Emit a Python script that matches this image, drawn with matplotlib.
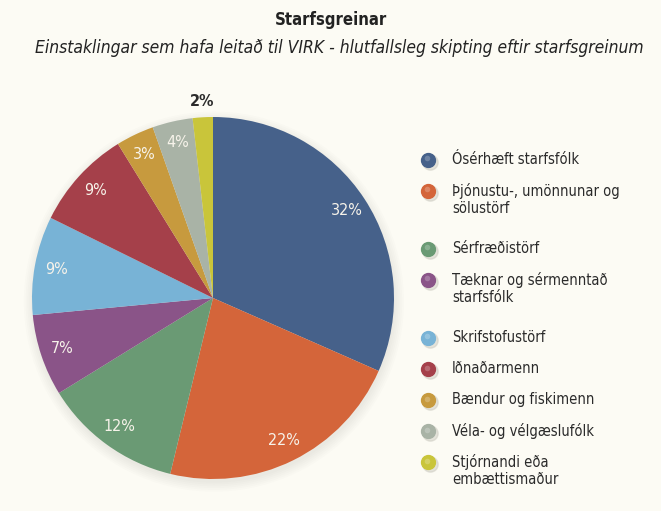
import matplotlib
matplotlib.use("Agg")
import numpy as np
import matplotlib.pyplot as plt
from matplotlib.lines import Line2D
from matplotlib.patches import Circle

categories = ["Ósérhæft starfsfólk", "Þjónustu-, umönnunar og\nsölustörf", "Sérfræðistörf",
              "Tæknar og sérmenntað\nstarfsfólk", "Skrifstofustörf", "Iðnaðarmenn",
              "Bændur og fiskimenn", "Véla- og vélgæslufólk", "Stjórnandi eða\nembættismaður"]
shares = [31.6, 22.2, 12.4, 7.3, 8.8, 8.9, 3.4, 3.6, 1.8]
pct_labels = ["32%", "22%", "12%", "7%", "9%", "9%", "3%", "4%", "2%"]
colors = ["#46618A", "#D4653A", "#6A9A74", "#8A5488", "#78B3D6",
          "#A5404A", "#C79A3E", "#A9B3A6", "#C9C53A"]

plt.rcParams["font.family"] = ["DejaVu Sans"]
plt.rcParams["font.stretch"] = "condensed"
BG = "#FCFBF4"
W, H = 661, 511

fig = plt.figure(figsize=(W / 100, H / 100), dpi=100, facecolor=BG)

# pie: center (213, 298) px, radius 181 px
cx, cy, r = 213, 298, 181
ax = fig.add_axes([(cx - r) / W, (H - cy - r) / H, 2 * r / W, 2 * r / H])
ax.set_facecolor(BG)

# faint soft shadow under the pie
for k in range(6):
    ax.add_patch(Circle((0.005, -0.02), 1.0 + 0.01 * k, color="#8a8a80", alpha=0.025,
                        lw=0, zorder=0, clip_on=False))

wedges, texts = ax.pie(shares, colors=colors, startangle=90, counterclock=False,
                       wedgeprops=dict(linewidth=0))
for i, (w, lab) in enumerate(zip(wedges, pct_labels)):
    w.set_zorder(2)
    mid = np.deg2rad((w.theta1 + w.theta2) / 2)
    if i == len(wedges) - 1:
        ax.text(1.09 * np.cos(mid), 1.09 * np.sin(mid), lab, ha="center", va="center",
                fontsize=11.5, fontweight="bold", color="#2b2b2b", zorder=3)
    else:
        ax.text(0.88 * np.cos(mid), 0.88 * np.sin(mid), lab, ha="center", va="center",
                fontsize=11.5, color="#F7F3EA", zorder=3)
ax.set_xlim(-1, 1)
ax.set_ylim(-1, 1)
ax.axis("off")

# titles
fig.text(0.5, 1 - 20 / H, "Starfsgreinar", ha="center", va="center",
         fontsize=12, fontweight="bold", color="#222222")
fig.text(339 / W, 1 - 48 / H, "Einstaklingar sem hafa leitað til VIRK - hlutfallsleg skipting eftir starfsgreinum",
         ha="center", va="center", fontsize=12.5, style="italic", color="#222222")

# legend with round "bead" markers, extra gap after two-line entries
y_px = 160
for lab, col in zip(categories, colors):
    yf = 1 - y_px / H
    fig.lines.append(Line2D([430 / W], [yf - 2 / H], transform=fig.transFigure, marker="o",
                            markersize=11, color="#c8c6bc", alpha=0.45, linestyle="none"))
    fig.lines.append(Line2D([428 / W], [yf], transform=fig.transFigure, marker="o",
                            markersize=10, color=col, markeredgecolor=col, linestyle="none"))
    fig.lines.append(Line2D([427 / W], [yf + 1.5 / H], transform=fig.transFigure, marker="o",
                            markersize=4, color="white", alpha=0.22, markeredgewidth=0,
                            linestyle="none"))
    fig.text(452 / W, 1 - (y_px - 8) / H, lab, ha="left", va="top", fontsize=10.5,
             color="#2b2b2b", linespacing=1.2)
    n = lab.count("\n") + 1
    y_px += 31 + 27 * (n - 1)

fig.savefig("out.png", dpi=100, facecolor=BG)
